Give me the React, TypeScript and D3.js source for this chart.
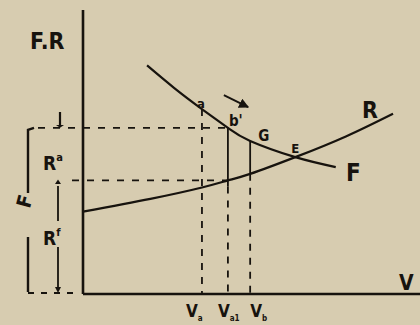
import * as d3 from "d3";
import React, { useEffect } from "react";

const W = 420;
const H = 325;

// F curve (tractive force) : speed / force
const fSpeed = [19, 27, 35.3, 43, 49.6, 63, 75];
const fForce = [80.5, 72.6, 65.1, 58.5, 53.9, 48.2, 44.7];
// R curve (resistance)
const rSpeed = [0, 20, 35.3, 43, 49.6, 63, 78, 92];
const rForce = [29, 33.5, 37.5, 40, 42.3, 48.2, 55.5, 63.5];

// marked speeds
const speedMarks = [
  { name: "a", v: 35.3, solid: false },
  { name: "a1", v: 43, solid: true },
  { name: "b", v: 49.6, solid: true },
];
const eqSpeed = 63;

const ink = "#17130e";
const paper = "#d7ccb0";
const font = "'DejaVu Sans Condensed', 'DejaVu Sans', sans-serif";

function at(vs: number[], fs: number[], v: number) {
  const i = vs.indexOf(v);
  return fs[i];
}

export default function App() {
  useEffect(() => {
    document.body.style.margin = "0";
    document.body.style.background = paper;
  }, []);

  const x = d3.scaleLinear().domain([0, 100]).range([83, 420]);
  const y = d3.scaleLinear().domain([0, 100]).range([294, 10]);

  const line = d3
    .line<[number, number]>()
    .x((d) => x(d[0]))
    .y((d) => y(d[1]))
    .curve(d3.curveNatural);

  const fPath = line(fSpeed.map((v, i) => [v, fForce[i]]));
  const rPath = line(rSpeed.map((v, i) => [v, rForce[i]]));

  const va1 = speedMarks[1].v;
  const topY = y(at(fSpeed, fForce, va1));
  const midY = y(at(rSpeed, rForce, va1));
  const baseY = y(0);

  const txt = { fontFamily: font, fontWeight: 700, fill: ink } as const;

  return (
    <svg width={W} height={H} style={{ display: "block" }}>
      <defs>
        <marker id="ah" viewBox="0 0 10 10" refX="9" refY="5" markerWidth="5" markerHeight="5" orient="auto">
          <path d="M0,0 L10,5 L0,10 z" fill={ink} />
        </marker>
      </defs>
      <rect width={W} height={H} fill={paper} />

      {/* axes */}
      <line x1={x(0)} y1={y(100)} x2={x(0)} y2={baseY} stroke={ink} strokeWidth={2.6} />
      <line x1={x(0)} y1={baseY} x2={x(100)} y2={baseY} stroke={ink} strokeWidth={2.6} />

      {/* dashed levels */}
      <line x1={38} y1={topY} x2={x(va1)} y2={topY} stroke={ink} strokeWidth={1.8} strokeDasharray="7 8" />
      <line x1={72} y1={midY} x2={x(va1)} y2={midY} stroke={ink} strokeWidth={1.8} strokeDasharray="7 8" />
      <line x1={28} y1={baseY - 1} x2={78} y2={baseY - 1} stroke={ink} strokeWidth={1.8} strokeDasharray="6 7" />

      {/* speed verticals */}
      {speedMarks.map((m) => {
        const yf = y(at(fSpeed, fForce, m.v));
        const yr = y(at(rSpeed, rForce, m.v));
        const split = m.solid ? yr + (m.name === "a1" ? 6 : 0) : yf;
        return (
          <g key={m.name}>
            {m.solid && (
              <line x1={x(m.v)} y1={yf} x2={x(m.v)} y2={split} stroke={ink} strokeWidth={1.8} />
            )}
            <line x1={x(m.v)} y1={split} x2={x(m.v)} y2={baseY} stroke={ink} strokeWidth={1.8} strokeDasharray="7 7" />
          </g>
        );
      })}

      {/* curves */}
      <path d={fPath ?? ""} fill="none" stroke={ink} strokeWidth={2.2} />
      <path d={rPath ?? ""} fill="none" stroke={ink} strokeWidth={2.2} />

      {/* direction arrow */}
      <line x1={x(41.8)} y1={y(70)} x2={x(49)} y2={y(65.8)} stroke={ink} strokeWidth={2} markerEnd="url(#ah)" />

      {/* left dimension marks */}
      <path d={`M34,${topY} L28,${topY + 2} L28,193 M28,237 L28,${baseY - 2}`} fill="none" stroke={ink} strokeWidth={2.4} />
      <line x1={60} y1={112} x2={60} y2={126} stroke={ink} strokeWidth={2.2} />
      <path d={`M56,125 L64,125 L60,${topY} z`} fill={ink} />
      <line x1={58} y1={186} x2={58} y2={221} stroke={ink} strokeWidth={1.8} />
      <path d={`M55,184 L61,184 L58,${midY - 1} z`} fill={ink} />
      <line x1={58} y1={247} x2={58} y2={baseY - 6} stroke={ink} strokeWidth={1.8} />
      <path d={`M55,${baseY - 7} L61,${baseY - 7} L58,${baseY - 1} z`} fill={ink} />

      {/* labels */}
      <text x={30} y={49} {...txt} fontSize={23}>F.R</text>
      <text x={x(35.3) - 5} y={y(65.1) - 1} {...txt} fontSize={13}>a</text>
      <text x={x(43) + 1} y={y(58.5) - 2} {...txt} fontSize={15}>b'</text>
      <text x={x(52)} y={y(54.5) + 2} {...txt} fontSize={15}>G</text>
      <text x={x(eqSpeed) - 4} y={y(49.5)} {...txt} fontSize={13}>E</text>
      <text x={362} y={118} {...txt} fontSize={23}>R</text>
      <text x={346} y={181} {...txt} fontSize={24}>F</text>
      <text x={399} y={290} {...txt} fontSize={21}>V</text>
      <text x={29} y={222} {...txt} fontSize={20} transform="rotate(-75 21 215)">F</text>
      <text x={43} y={170} {...txt} fontSize={19}>
        R<tspan fontSize={11} dy={-9}>a</tspan>
      </text>
      <text x={43} y={245} {...txt} fontSize={19}>
        R<tspan fontSize={11} dy={-9}>f</tspan>
      </text>

      {speedMarks.map((m) => (
        <text key={m.name} x={x(m.v) + (m.name === "a" ? -16 : m.name === "a1" ? -10 : 0)} y={317} {...txt} fontSize={17}>
          V<tspan fontSize={8} dy={4}>{m.name}</tspan>
        </text>
      ))}
    </svg>
  );
}
